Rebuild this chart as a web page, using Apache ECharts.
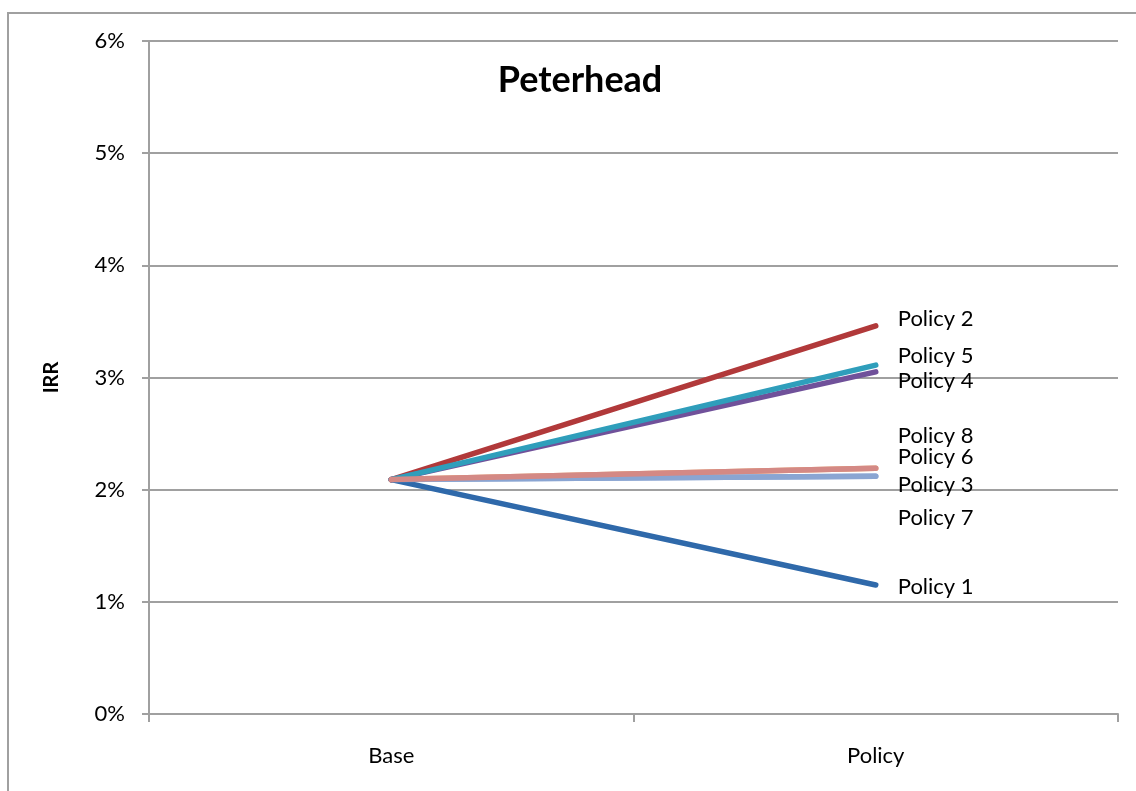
<!DOCTYPE html>
<html>
<head>
<meta charset="utf-8">
<script src="https://cdn.jsdelivr.net/npm/echarts@6/dist/echarts.min.js"></script>
<style>
  html, body { margin: 0; padding: 0; background: #fff; }
  #chart { width: 1136px; height: 791px; }
</style>
</head>
<body>
<div id="chart"></div>
<script>
// Scenario categories on the x axis
const categories = ['Base', 'Policy'];

// IRR (%) for each policy: base case, then with the policy applied
const policy1 = [2.09, 1.15];
const policy2 = [2.09, 3.46];
const policy3 = [2.09, 2.12];
const policy4 = [2.09, 3.05];
const policy5 = [2.09, 3.11];
const policy6 = [2.09, 2.19];
const policy7 = [2.09, 2.12];
const policy8 = [2.09, 2.19];

const yTicks = [0, 1, 2, 3, 4, 5, 6];

const FONT = 'Lato, "Noto Sans", sans-serif';
const AXIS_GREY = '#a0a0a0';

// name, values, colour, label nudge (px), stacking order
const seriesDefs = [
  { name: 'Policy 1', data: policy1, color: '#2f69aa', dy: 2,   z: 3 },
  { name: 'Policy 2', data: policy2, color: '#b1393a', dy: -7,  z: 3 },
  { name: 'Policy 3', data: policy3, color: '#8aa5d2', dy: 9,   z: 3 },
  { name: 'Policy 4', data: policy4, color: '#70519a', dy: 9,   z: 3 },
  { name: 'Policy 5', data: policy5, color: '#2f9ebb', dy: -9,  z: 4 },
  { name: 'Policy 6', data: policy6, color: '#e5a06c', dy: -11, z: 2 },
  { name: 'Policy 7', data: policy7, color: '#8aa5d2', dy: 42,  z: 2 },
  { name: 'Policy 8', data: policy8, color: '#d48985', dy: -32, z: 5 }
];

const chart = echarts.init(document.getElementById('chart'), null, { renderer: 'canvas' });

chart.setOption({
  animation: false,
  backgroundColor: '#ffffff',
  title: {
    text: 'Peterhead',
    left: 575,
    top: 57,
    textAlign: 'center',
    textStyle: { fontFamily: FONT, fontSize: 36, fontWeight: 'bold', color: '#000' }
  },
  graphic: [{
    type: 'rect',
    shape: { x: 8, y: 13, width: 1300, height: 1000 },
    style: { fill: 'none', stroke: AXIS_GREY, lineWidth: 2 },
    silent: true
  }],
  grid: { left: 149, right: 18, top: 41, bottom: 77, containLabel: false },
  xAxis: {
    type: 'category',
    data: categories,
    boundaryGap: true,
    axisLine: { lineStyle: { color: AXIS_GREY, width: 2 } },
    axisTick: { show: true, length: 8, alignWithLabel: false, lineStyle: { color: AXIS_GREY, width: 2 } },
    axisLabel: { margin: 31, fontFamily: FONT, fontSize: 22, color: '#000' },
    splitLine: { show: false }
  },
  yAxis: {
    type: 'value',
    min: yTicks[0],
    max: yTicks[yTicks.length - 1],
    interval: 1,
    name: 'IRR',
    nameLocation: 'middle',
    nameGap: 87,
    nameRotate: 90,
    nameTextStyle: { fontFamily: FONT, fontSize: 20, fontWeight: 'bold', color: '#000' },
    axisLine: { show: true, lineStyle: { color: AXIS_GREY, width: 2 } },
    axisTick: { show: true, length: 7, lineStyle: { color: AXIS_GREY, width: 2 } },
    axisLabel: {
      margin: 24,
      fontFamily: FONT, fontSize: 22, color: '#000',
      formatter: v => v + '%'
    },
    splitLine: { show: true, lineStyle: { color: AXIS_GREY, width: 2 } }
  },
  series: seriesDefs.map(s => ({
    name: s.name,
    type: 'line',
    data: s.data,
    z: s.z,
    symbol: 'none',
    lineStyle: { color: s.color, width: 5.5, cap: 'round' },
    itemStyle: { color: s.color },
    endLabel: {
      show: true,
      formatter: s.name,
      distance: 22,
      offset: [0, s.dy],
      fontFamily: FONT, fontSize: 22, color: '#000'
    }
  }))
});
</script>
</body>
</html>
